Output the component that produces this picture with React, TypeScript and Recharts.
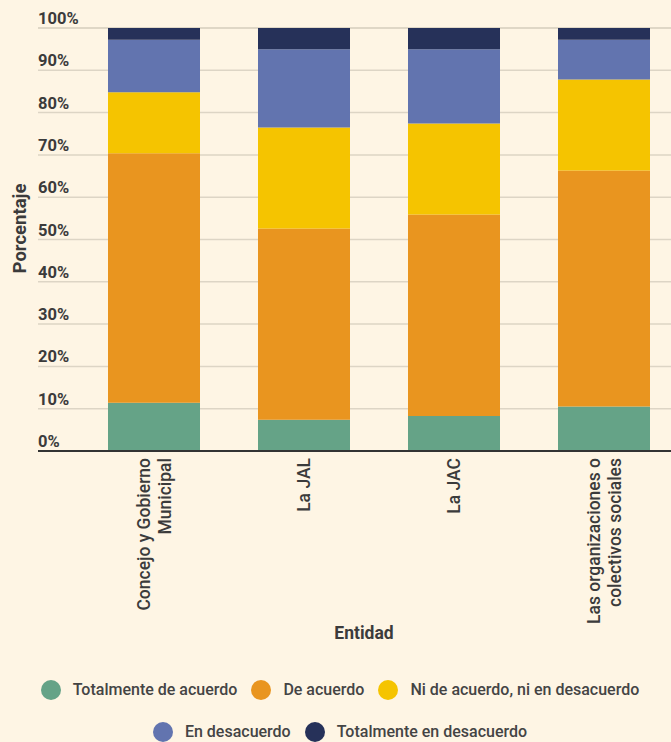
import React from "react";
import {
  BarChart,
  Bar,
  XAxis,
  YAxis,
  CartesianGrid,
  Legend,
} from "recharts";

// categories (line breaks as in the original labels)
const categories = [
  "Concejo y Gobierno\nMunicipal",
  "La JAL",
  "La JAC",
  "Las organizaciones o\ncolectivos sociales",
];

// percentages per response
const totalmenteDeAcuerdo = [11.4, 7.4, 8.3, 10.5];
const deAcuerdo = [59.0, 45.2, 47.6, 55.8];
const niDeAcuerdoNiEnDesacuerdo = [14.4, 23.9, 21.5, 21.5];
const enDesacuerdo = [12.4, 18.5, 17.6, 9.4];
const totalmenteEnDesacuerdo = [2.8, 5.0, 5.0, 2.8];

const yTicks = [0, 10, 20, 30, 40, 50, 60, 70, 80, 90, 100];

const series = [
  { key: "ta", name: "Totalmente de acuerdo", color: "#65A387", values: totalmenteDeAcuerdo },
  { key: "da", name: "De acuerdo", color: "#E9951F", values: deAcuerdo },
  { key: "ni", name: "Ni de acuerdo, ni en desacuerdo", color: "#F5C400", values: niDeAcuerdoNiEnDesacuerdo },
  { key: "ed", name: "En desacuerdo", color: "#6274AF", values: enDesacuerdo },
  { key: "te", name: "Totalmente en desacuerdo", color: "#263159", values: totalmenteEnDesacuerdo },
];

const data = categories.map((cat, i) => {
  const row: Record<string, string | number> = { entidad: cat };
  series.forEach((s) => {
    row[s.key] = s.values[i];
  });
  return row;
});

const FONT = "Roboto, 'Noto Sans', sans-serif";
const BG = "#FEF5E4";
const TEXT = "#3b3b3b";

const XTick = (props: any) => {
  const { x, y, payload } = props;
  const lines = String(payload.value).split("\n");
  return (
    <g transform={`translate(${x},${y}) rotate(-90)`}>
      {lines.map((line, i) => (
        <text
          key={i}
          x={0}
          y={(i - (lines.length - 1) / 2) * 21 + 6}
          textAnchor="end"
          fontFamily={FONT}
          fontSize={17.5}
          fontWeight={500}
          fill={TEXT}
        >
          {line}
        </text>
      ))}
    </g>
  );
};

const YTick = (props: any) => {
  const { y, payload } = props;
  return (
    <text
      x={38}
      y={y - 4}
      textAnchor="start"
      fontFamily={FONT}
      fontSize={16.5}
      fontWeight={700}
      fill={TEXT}
    >
      {payload.value}%
    </text>
  );
};

const LegendContent = () => {
  const rows = [series.slice(0, 3), series.slice(3)];
  return (
    <div
      style={{
        width: 680,
        height: 80,
        boxSizing: "border-box",
        paddingTop: 17,
        display: "flex",
        flexDirection: "column",
        fontFamily: FONT,
        fontSize: 16,
        fontWeight: 500,
        color: "#444",
      }}
    >
      {rows.map((row, r) => (
        <div
          key={r}
          style={{
            display: "flex",
            justifyContent: "center",
            alignItems: "center",
            height: 22,
            marginTop: r === 0 ? 0 : 21,
          }}
        >
          {row.map((s, i) => (
            <div
              key={s.key}
              style={{ display: "flex", alignItems: "center", marginLeft: i === 0 ? 0 : 14 }}
            >
              <span
                style={{
                  display: "inline-block",
                  width: 20,
                  height: 20,
                  borderRadius: "50%",
                  background: s.color,
                  marginRight: 12,
                }}
              />
              <span>{s.name}</span>
            </div>
          ))}
        </div>
      ))}
    </div>
  );
};

export default function App() {
  return (
    <div
      style={{
        position: "absolute",
        left: 0,
        top: 0,
        width: 671,
        height: 742,
        overflow: "hidden",
        background: BG,
      }}
    >
      <BarChart
        width={690}
        height={742}
        data={data}
        margin={{ top: 28, right: 11, left: 0, bottom: 0 }}
        barSize={92}
      >
        <CartesianGrid vertical={false} stroke="#DDD5C5" strokeWidth={1.5} />
        <XAxis
          dataKey="entidad"
          interval={0}
          height={211}
          padding={{ left: 41, right: 0 }}
          tickLine={false}
          tickSize={0}
          tickMargin={7}
          axisLine={{ stroke: "#333", strokeWidth: 2 }}
          tick={<XTick />}
          label={(p: any) => {
            const vb = p.viewBox;
            return (
              <text
                x={vb.x + vb.width / 2 + 5.5}
                y={vb.y + 182}
                textAnchor="middle"
                dominantBaseline="central"
                fontFamily={FONT}
                fontSize={17.5}
                fontWeight={700}
                fill={TEXT}
              >
                Entidad
              </text>
            );
          }}
        />
        <YAxis
          width={38}
          domain={[0, 100]}
          ticks={yTicks}
          interval={0}
          tickLine={false}
          axisLine={false}
          tick={<YTick />}
          label={(p: any) => {
            const vb = p.viewBox;
            return (
              <text
                transform={`translate(${vb.x + 20},${vb.y + vb.height / 2 - 11}) rotate(-90)`}
                textAnchor="middle"
                dominantBaseline="central"
                fontFamily={FONT}
                fontSize={18.5}
                fontWeight={700}
                fill={TEXT}
              >
                Porcentaje
              </text>
            );
          }}
        />
        <Legend
          verticalAlign="bottom"
          wrapperStyle={{ left: 0, bottom: 0, width: 680 }}
          content={<LegendContent />}
        />
        {series.map((s) => (
          <Bar
            key={s.key}
            dataKey={s.key}
            name={s.name}
            stackId="a"
            fill={s.color}
            isAnimationActive={false}
          />
        ))}
      </BarChart>
    </div>
  );
}
